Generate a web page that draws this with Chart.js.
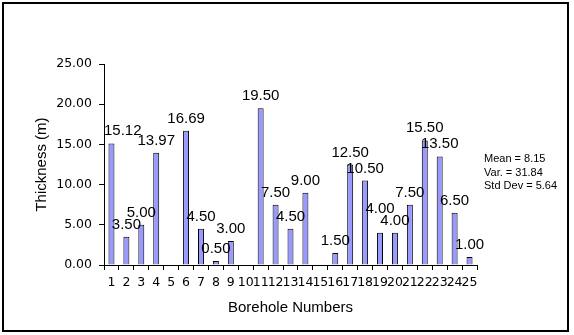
<!DOCTYPE html>
<html>
<head>
<meta charset="utf-8">
<script src="https://cdn.jsdelivr.net/npm/chart.js@4"></script>
<style>
  body { margin: 0; background: #fff; }
</style>
</head>
<body>
<canvas id="myChart" width="574" height="335"></canvas>
<script>
  // borehole thickness data
  let boreholes = ['1','2','3','4','5','6','7','8','9','10','11','12','13','14','15','16','17','18','19','20','21','22','23','24','25'];
  let thickness = [15.12, 3.50, 5.00, 13.97, 0, 16.69, 4.50, 0.50, 3.00, 0, 19.50, 7.50, 4.50, 9.00, 0, 1.50, 12.50, 10.50, 4.00, 4.00, 7.50, 15.50, 13.50, 6.50, 1.00];
  let yTicks = [0, 5, 10, 15, 20, 25];
  let stats = ['Mean = 8.15', 'Var. = 31.84', 'Std Dev = 5.64'];

  let tickFont = { family: 'DejaVu Sans', size: 12.5 };
  let bigFont = { family: 'Liberation Sans, Arial', size: 15 };

  // frame, value labels and stats box
  let extras = {
    id: 'extras',
    beforeDraw(chart) {
      let c = chart.ctx;
      c.save();
      c.fillStyle = '#fff';
      c.fillRect(0, 0, chart.width, chart.height);
      c.restore();
    },
    afterDraw(chart) {
      let c = chart.ctx;
      let area = chart.chartArea;
      c.save();
      c.strokeStyle = '#000';
      c.lineWidth = 2;
      c.strokeRect(3, 3, 565, 328);

      c.fillStyle = '#000';
      c.font = '15px "Liberation Sans", Arial';
      c.textBaseline = 'alphabetic';
      c.textAlign = 'left';
      let bars = chart.getDatasetMeta(0).data;
      bars.forEach((bar, i) => {
        let v = thickness[i];
        if (!v) return;
        let txt = v.toFixed(2);
        let w = c.measureText(txt).width;
        let x = bar.x - w / 2;
        if (x < area.left) x = area.left;
        let y = bar.y - 8;
        // same value as next bar: lift it so both stay readable
        if (thickness[i + 1] === v) y -= 12;
        c.fillText(txt, x, y);
      });

      c.font = '11px "Liberation Sans", Arial';
      c.textBaseline = 'middle';
      stats.forEach((s, i) => {
        c.fillText(s, 484, 159 + i * 13.5);
      });
      c.restore();
    }
  };

  let ctx = document.getElementById('myChart').getContext('2d');
  let chart = new Chart(ctx, {
    type: 'bar',
    data: {
      labels: boreholes,
      datasets: [{
        data: thickness,
        backgroundColor: '#9999ff',
        borderColor: '#000',
        borderWidth: 1,
        barPercentage: 0.4,
        categoryPercentage: 1
      }]
    },
    options: {
      responsive: false,
      animation: false,
      layout: { padding: { left: 29, top: 64, right: 97, bottom: 14 } },
      plugins: {
        legend: { display: false },
        tooltip: { enabled: false }
      },
      scales: {
        x: {
          grid: { display: true, drawOnChartArea: false, drawTicks: true, tickLength: 5, color: '#000', offset: true },
          border: { display: true, color: '#000', width: 1 },
          ticks: { color: '#000', font: tickFont, autoSkip: false, maxRotation: 0, minRotation: 0, padding: 5 },
          title: { display: true, text: 'Borehole Numbers', color: '#000', font: bigFont, padding: 4 },
          afterFit(scale) { scale.height = 56; }
        },
        y: {
          min: 0,
          max: 25,
          grid: { display: true, drawOnChartArea: false, drawTicks: true, tickLength: 5, color: '#000' },
          border: { display: true, color: '#000', width: 1 },
          afterBuildTicks(scale) { scale.ticks = yTicks.map(v => ({ value: v })); },
          ticks: {
            color: '#000',
            font: tickFont,
            padding: 7,
            callback: v => Number(v).toFixed(2)
          },
          title: { display: true, text: 'Thickness (m)', color: '#000', font: bigFont, padding: 4 },
          afterFit(scale) { scale.width = 75; }
        }
      }
    },
    plugins: [extras]
  });
</script>
</body>
</html>
